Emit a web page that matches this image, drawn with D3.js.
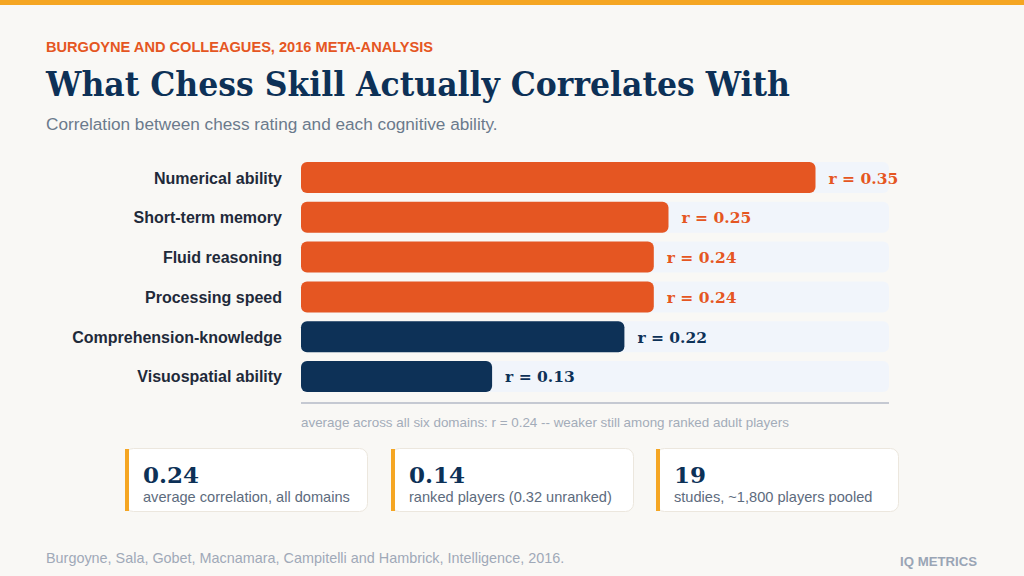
<!DOCTYPE html>
<html>
<head>
<meta charset="utf-8">
<script src="https://cdn.jsdelivr.net/npm/d3@7"></script>
<style>
  body { margin: 0; background: #f9f8f5; }
  svg { display: block; }
</style>
</head>
<body>
<svg id="chart" width="1024" height="576"></svg>
<script>
// data
var domains = ["Numerical ability", "Short-term memory", "Fluid reasoning", "Processing speed", "Comprehension-knowledge", "Visuospatial ability"];
var rValues = [0.35, 0.25, 0.24, 0.24, 0.22, 0.13];
var highlight = [true, true, true, true, false, false];
var cardValues = ["0.24", "0.14", "19"];
var cardLabels = ["average correlation, all domains", "ranked players (0.32 unranked)", "studies, ~1,800 players pooled"];

var orange = "#e55622", navy = "#0d3157";
var sans = "'Liberation Sans', Arial, sans-serif";
var serif = "Georgia, 'DejaVu Serif', serif";

var svg = d3.select("#chart");

svg.append("rect").attr("x", 0).attr("y", 0).attr("width", 1024).attr("height", 5).attr("fill", "#f5a623");

svg.append("text").attr("x", 46).attr("y", 52).attr("font-family", sans).attr("font-weight", "bold")
  .attr("font-size", 14.6).attr("fill", orange).text("BURGOYNE AND COLLEAGUES, 2016 META-ANALYSIS");
svg.append("text").attr("x", 46).attr("y", 96).attr("font-family", serif).attr("font-weight", "bold")
  .attr("font-size", 33).attr("fill", navy).attr("textLength", 744).attr("lengthAdjust", "spacingAndGlyphs")
  .text("What Chess Skill Actually Correlates With");
svg.append("text").attr("x", 46).attr("y", 130).attr("font-family", sans)
  .attr("font-size", 17.2).attr("fill", "#6b7a8c").text("Correlation between chess rating and each cognitive ability.");

var x = d3.scaleLinear().domain([0, 0.4]).range([301, 889]);
var y = d3.scaleBand().domain(domains).range([158, 396]).paddingInner(0.22).paddingOuter(0.1);

var rows = svg.append("g").selectAll("g").data(domains).enter().append("g");

rows.append("rect").attr("x", x(0)).attr("y", function(d) { return y(d); })
  .attr("width", x(0.4) - x(0)).attr("height", y.bandwidth()).attr("rx", 6).attr("fill", "#f1f5fb");

rows.append("rect").attr("x", x(0)).attr("y", function(d) { return y(d); })
  .attr("width", function(d, i) { return x(rValues[i]) - x(0); }).attr("height", y.bandwidth()).attr("rx", 6)
  .attr("fill", function(d, i) { return highlight[i] ? orange : navy; });

rows.append("text").attr("x", 282).attr("y", function(d) { return y(d) + y.bandwidth() / 2 + 6; })
  .attr("text-anchor", "end").attr("font-family", sans).attr("font-weight", "bold").attr("font-size", 16)
  .attr("fill", "#1f2a3a").text(function(d) { return d; });

rows.append("text").attr("x", function(d, i) { return x(rValues[i]) + 13; })
  .attr("y", function(d) { return y(d) + y.bandwidth() / 2 + 6; })
  .attr("font-family", serif).attr("font-weight", "bold").attr("font-size", 15.5)
  .attr("fill", function(d, i) { return highlight[i] ? orange : navy; })
  .text(function(d, i) { return "r = " + rValues[i].toFixed(2); });

svg.append("line").attr("x1", x(0)).attr("x2", x(0.4)).attr("y1", 403).attr("y2", 403)
  .attr("stroke", "#b3bac6").attr("stroke-width", 1.5);
svg.append("text").attr("x", 301).attr("y", 427).attr("font-family", sans).attr("font-size", 13.4)
  .attr("fill", "#a3acb9").text("average across all six domains: r = 0.24 -- weaker still among ranked adult players");

var cardX = [125, 391, 656];
var cards = svg.append("g").selectAll("g").data(cardValues).enter().append("g")
  .attr("transform", function(d, i) { return "translate(" + cardX[i] + ",448)"; });
cards.append("rect").attr("x", 0.5).attr("y", 0.5).attr("width", 242).attr("height", 63).attr("rx", 8)
  .attr("fill", "#ffffff").attr("stroke", "#ece7de");
cards.append("rect").attr("x", 0).attr("y", 1).attr("width", 4).attr("height", 62).attr("fill", "#f5a623");
cards.append("text").attr("x", 18).attr("y", 35).attr("font-family", serif).attr("font-weight", "bold")
  .attr("font-size", 23).attr("fill", navy).text(function(d) { return d; });
cards.append("text").attr("x", 18).attr("y", 54).attr("font-family", sans).attr("font-size", 14.6)
  .attr("fill", "#5d6b7d").text(function(d, i) { return cardLabels[i]; });

svg.append("text").attr("x", 46).attr("y", 563).attr("font-family", sans).attr("font-size", 14.4)
  .attr("fill", "#a0a9b8").text("Burgoyne, Sala, Gobet, Macnamara, Campitelli and Hambrick, Intelligence, 2016.");
svg.append("text").attr("x", 977).attr("y", 566).attr("text-anchor", "end").attr("font-family", sans)
  .attr("font-weight", "bold").attr("font-size", 13.2).attr("fill", "#9aa5b5").text("IQ METRICS");
</script>
</body>
</html>
